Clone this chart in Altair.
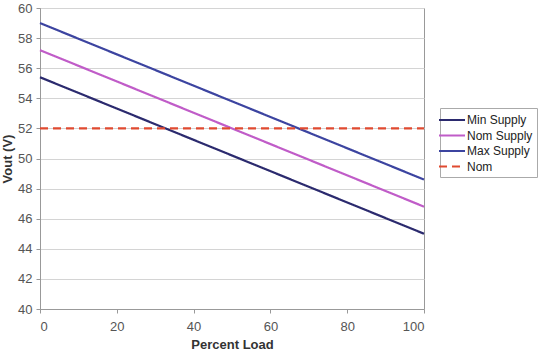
import altair as alt
import pandas as pd

percent_load = [0, 100]
min_supply = [55.4, 45.0]
nom_supply = [57.2, 46.8]
max_supply = [59.0, 48.6]
nom_line = [52.0, 52.0]

series_names = ["Min Supply", "Nom Supply", "Max Supply", "Nom"]
series_values = [min_supply, nom_supply, max_supply, nom_line]
colors = ["#2b2a6e", "#c05cc8", "#3c44a0", "#e04a30"]
dashes = [[1, 0], [1, 0], [1, 0], [8, 5]]

rows = []
for name, vals in zip(series_names, series_values):
    for x, y in zip(percent_load, vals):
        rows.append({"load": x, "vout": y, "series": name})
df = pd.DataFrame(rows)

font = "Liberation Sans"

lines = alt.Chart(df).mark_line(strokeWidth=2.2).encode(
    x=alt.X("load:Q", title="Percent Load",
            scale=alt.Scale(domain=[0, 100], nice=False),
            axis=alt.Axis(values=[0, 20, 40, 60, 80, 100], grid=False,
                          tickSize=4, labelPadding=7, titlePadding=5)),
    y=alt.Y("vout:Q", title="Vout (V)",
            scale=alt.Scale(domain=[40, 60], nice=False, zero=False),
            axis=alt.Axis(values=list(range(40, 61, 2)), grid=True,
                          tickSize=4, labelPadding=4, titlePadding=3)),
    color=alt.Color("series:N", scale=alt.Scale(domain=series_names, range=colors),
                    sort=series_names,
                    legend=alt.Legend(title=None, orient="none", legendX=400, legendY=100,
                                      symbolType="M-2,0H2", symbolSize=169,
                                      symbolStrokeWidth=2.2, labelFontSize=12,
                                      labelOffset=7,
                                      labelExpr="datum.label + '\u00a0\u00a0'",
                                      labelFont=font, labelColor="#222",
                                      strokeColor="#aaa", fillColor="white",
                                      padding=4, rowPadding=1.5, labelLimit=200)),
    strokeDash=alt.StrokeDash("series:N", scale=alt.Scale(domain=series_names, range=dashes),
                              sort=series_names, legend=None),
    detail="series:N",
)

chart = lines.properties(
    width=384, height=301,
    padding={"left": 40, "top": 8, "right": 116, "bottom": 43},
    autosize=alt.AutoSizeParams(type="none"),
).configure_view(
    stroke="#999", strokeWidth=1
).configure_axis(
    labelFont=font, titleFont=font, labelFontSize=13, titleFontSize=13,
    labelColor="#555", titleColor="#333", domainColor="#999", tickColor="#999",
    gridColor="#d4d4d4", titleFontWeight="bold"
)

chart.save("out.html", embed_options={"renderer": "svg", "actions": False})
